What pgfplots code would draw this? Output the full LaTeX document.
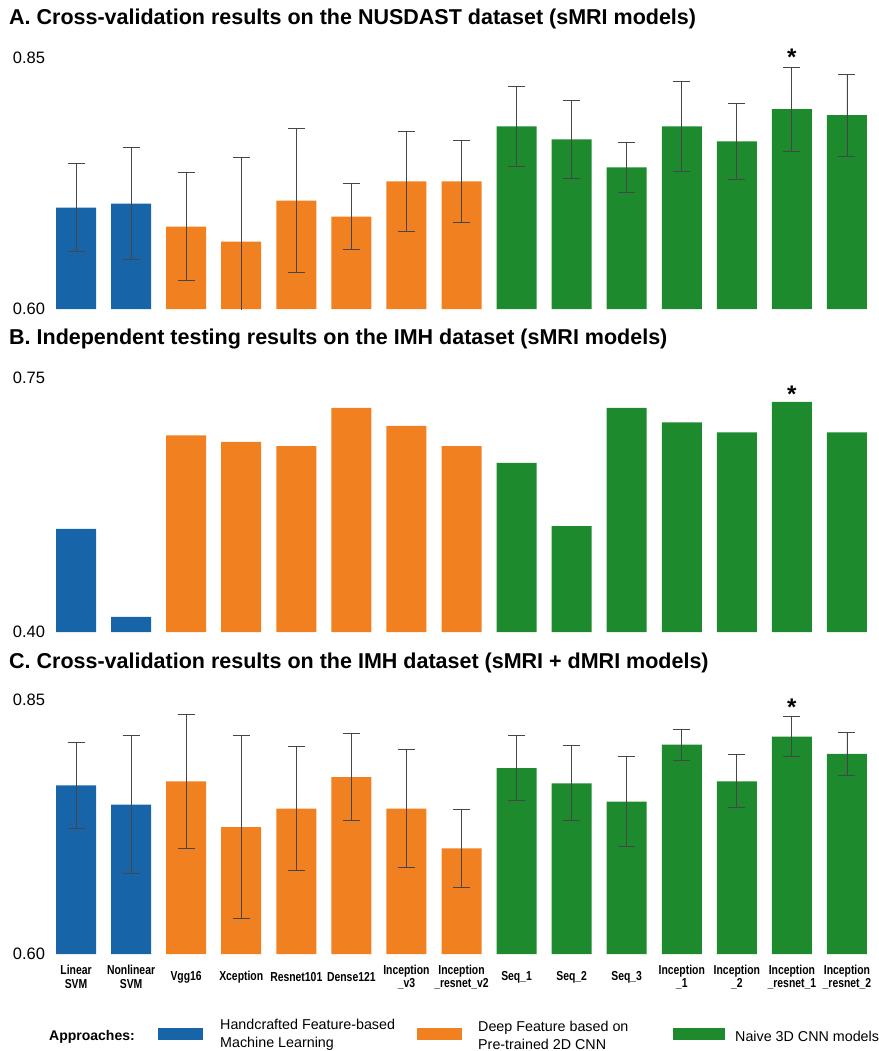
\documentclass[border=0pt]{standalone}
\usepackage{pgfplots}
\pgfplotsset{compat=1.18}
\usepackage{pgfplotstable}
\usepackage{fontspec}
\setmainfont{Liberation Sans}
\newfontfamily\narrowfont[FakeStretch=0.8]{Liberation Sans}
\definecolor{cblue}{RGB}{24,100,168}
\definecolor{corange}{RGB}{240,128,32}
\definecolor{cgreen}{RGB}{30,138,46}
\definecolor{cerr}{RGB}{70,70,70}

% Panel A: cross-validation NUSDAST (sMRI)
\pgfplotstableread{
x y e
0 0.701 0.044
1 0.705 0.056
}\Ablue
\pgfplotstableread{
x y e
2 0.682 0.054
3 0.667 0.084
4 0.708 0.072
5 0.692 0.033
6 0.727 0.050
7 0.727 0.041
}\Aorange
\pgfplotstableread{
x y e
8 0.782 0.040
9 0.769 0.039
10 0.741 0.025
11 0.782 0.045
12 0.767 0.038
13 0.799 0.042
14 0.793 0.041
}\Agreen
% Panel B: independent testing IMH (sMRI)
\pgfplotstableread{
x y
0 0.542
1 0.421
}\Bblue
\pgfplotstableread{
x y
2 0.671
3 0.662
4 0.656
5 0.709
6 0.684
7 0.656
}\Borange
\pgfplotstableread{
x y
8 0.633
9 0.546
10 0.709
11 0.689
12 0.675
13 0.717
14 0.675
}\Bgreen
% Panel C: cross-validation IMH (sMRI + dMRI)
\pgfplotstableread{
x y e
0 0.766 0.042
1 0.747 0.068
}\Cblue
\pgfplotstableread{
x y e
2 0.770 0.066
3 0.725 0.090
4 0.743 0.061
5 0.774 0.043
6 0.743 0.058
7 0.704 0.038
}\Corange
\pgfplotstableread{
x y e
8 0.783 0.032
9 0.768 0.037
10 0.750 0.044
11 0.806 0.015
12 0.770 0.026
13 0.814 0.020
14 0.797 0.021
}\Cgreen

\pgfplotsset{
  panel/.style={
    scale only axis, width=826bp, xmin=-0.5, xmax=14.5,
    axis line style={draw=none}, major tick length=0pt,
    xtick=\empty,
    clip mode=individual,
    /pgf/number format/assume math mode=true,
    y tick label style={/pgf/number format/.cd, fixed, fixed zerofill, precision=2, /tikz/.cd, font=\fontsize{16.5bp}{18bp}\selectfont},
  },
  barp/.style={ybar, bar width=40bp, bar shift=0pt, draw=none, fill=#1,
    error bars/.cd, y dir=both, y explicit,
    error bar style={cerr, line width=0.9bp},
    error mark options={cerr, line width=0.9bp, mark size=8.5bp, rotate=90}},
  barq/.style={ybar, bar width=40bp, bar shift=0pt, draw=none, fill=#1},
}

\begin{document}
\begin{tikzpicture}
\useasboundingbox (0,0) rectangle (879bp,-1051bp);

% Titles
\node[anchor=west, inner sep=0pt, font=\bfseries\fontsize{21.5bp}{23bp}\selectfont] at (9bp,-19bp) {A. Cross-validation results on the NUSDAST dataset (sMRI models)};
\node[anchor=west, inner sep=0pt, font=\bfseries\fontsize{21.5bp}{23bp}\selectfont] at (9bp,-339bp) {B. Independent testing results on the IMH dataset (sMRI models)};
\node[anchor=west, inner sep=0pt, font=\bfseries\fontsize{21.5bp}{23bp}\selectfont] at (9bp,-663bp) {C. Cross-validation results on the IMH dataset (sMRI + dMRI models)};

% Panel A
\begin{axis}[panel, at={(48.5bp,-309bp)}, anchor=south west, height=251bp,
  ymin=0.60, ymax=0.85, ytick={0.60,0.85}]
\addplot[barp=cblue] table[x=x, y=y, y error=e] {\Ablue};
\addplot[barp=corange] table[x=x, y=y, y error=e] {\Aorange};
\addplot[barp=cgreen] table[x=x, y=y, y error=e] {\Agreen};
\node[font=\bfseries\fontsize{24bp}{24bp}\selectfont, inner sep=0pt, yshift=-5bp] at (axis cs:13,0.856) {*};
\end{axis}

% Panel B
\begin{axis}[panel, at={(48.5bp,-632bp)}, anchor=south west, height=254bp,
  ymin=0.40, ymax=0.75, ytick={0.40,0.75}]
\addplot[barq=cblue] table[x=x, y=y] {\Bblue};
\addplot[barq=corange] table[x=x, y=y] {\Borange};
\addplot[barq=cgreen] table[x=x, y=y] {\Bgreen};
\node[font=\bfseries\fontsize{24bp}{24bp}\selectfont, inner sep=0pt, yshift=-5bp] at (axis cs:13,0.734) {*};
\end{axis}

% Panel C
\begin{axis}[panel, at={(48.5bp,-954bp)}, anchor=south west, height=254bp,
  ymin=0.60, ymax=0.85, ytick={0.60,0.85},
  xtick={0,...,14},
  xticklabels={{Linear\\SVM},{Nonlinear\\SVM},{Vgg16},{Xception},{Resnet101},{Dense121},{Inception\\\_v3},{Inception\\\_resnet\_v2},{Seq\_1},{Seq\_2},{Seq\_3},{Inception\\\_1},{Inception\\\_2},{Inception\\\_resnet\_1},{Inception\\\_resnet\_2}},
  x tick label style={align=center, anchor=center, yshift=-23bp, font=\narrowfont\bfseries\fontsize{13bp}{13.5bp}\selectfont}]
\addplot[barp=cblue] table[x=x, y=y, y error=e] {\Cblue};
\addplot[barp=corange] table[x=x, y=y, y error=e] {\Corange};
\addplot[barp=cgreen] table[x=x, y=y, y error=e] {\Cgreen};
\node[font=\bfseries\fontsize{24bp}{24bp}\selectfont, inner sep=0pt, yshift=-5bp] at (axis cs:13,0.848) {*};
\end{axis}

% Legend
\node[anchor=west, inner sep=0pt, font=\bfseries\fontsize{14bp}{16bp}\selectfont] at (49bp,-1037bp) {Approaches:};
\fill[cblue] (158bp,-1028bp) rectangle (203bp,-1040bp);
\node[anchor=west, inner sep=0pt, align=left, font=\fontsize{14.3bp}{18bp}\selectfont] at (220bp,-1035bp) {Handcrafted Feature-based\\Machine Learning};
\fill[corange] (417bp,-1028bp) rectangle (462bp,-1040bp);
\node[anchor=west, inner sep=0pt, align=left, font=\fontsize{14.3bp}{18bp}\selectfont] at (478bp,-1035bp) {Deep Feature based on\\Pre-trained 2D CNN};
\fill[cgreen] (673bp,-1028bp) rectangle (725bp,-1040bp);
\node[anchor=west, inner sep=0pt, font=\fontsize{14.3bp}{18bp}\selectfont] at (735bp,-1036bp) {Naive 3D CNN models};
\end{tikzpicture}
\end{document}
